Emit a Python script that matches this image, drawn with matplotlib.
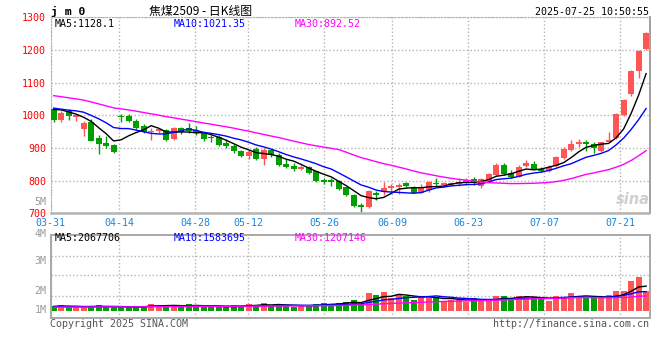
import numpy as np
import pandas as pd
import matplotlib
matplotlib.use('Agg')
import matplotlib.pyplot as plt
import matplotlib.transforms as mtransforms

# JM0 daily K, 2025-03-31 .. 2025-07-25
opens = [1019, 986, 1013, 995, 958, 980, 930, 914, 909, 999,
         999, 983, 968, 948, 952, 955, 926, 960, 960, 955,
         945, 935, 933, 914, 906, 892, 874, 896, 866, 894,
         878, 851, 846, 837, 841, 828, 802, 802, 799, 779,
         756, 725, 718, 761, 766, 776, 780, 792, 780, 763,
         771, 794, 787, 786, 789, 792, 804, 785, 800, 817,
         848, 824, 812, 846, 851, 836, 831, 846, 868, 894,
         911, 919, 912, 892, 919, 929, 1001, 1064, 1137, 1203]
highs = [1022, 1012, 1018, 1003, 982, 988, 940, 938, 912, 1004,
         1005, 988, 972, 962, 962, 958, 963, 965, 975, 968,
         950, 940, 940, 927, 912, 894, 894, 904, 899, 898,
         884, 865, 853, 848, 845, 831, 809, 808, 802, 782,
         758, 731, 771, 768, 797, 790, 792, 797, 784, 789,
         799, 807, 797, 797, 807, 807, 810, 807, 824, 853,
         855, 833, 848, 863, 860, 843, 848, 875, 904, 924,
         926, 924, 919, 919, 950, 1008, 1050, 1139, 1199, 1256]
lows = [980, 980, 985, 983, 938, 920, 882, 900, 886, 981,
        979, 959, 945, 925, 946, 922, 924, 943, 945, 940,
        920, 917, 905, 900, 884, 872, 866, 863, 848, 872,
        846, 838, 831, 833, 819, 797, 789, 785, 771, 753,
        720, 705, 716, 741, 756, 766, 758, 780, 761, 761,
        766, 784, 782, 784, 785, 787, 787, 777, 797, 814,
        817, 807, 810, 843, 832, 825, 827, 843, 865, 891,
        904, 891, 886, 889, 917, 927, 999, 1059, 1113, 1201]
closes = [985, 1008, 999, 1001, 977, 922, 912, 907, 889, 995,
          983, 962, 948, 953, 957, 925, 960, 950, 952, 945,
          928, 929, 910, 907, 892, 874, 889, 866, 894, 877,
          848, 843, 837, 843, 822, 799, 797, 797, 775, 756,
          723, 719, 768, 756, 777, 783, 786, 783, 763, 776,
          797, 789, 792, 792, 797, 802, 792, 804, 820, 848,
          820, 812, 843, 855, 836, 831, 841, 871, 897, 912,
          919, 911, 899, 917, 924, 1004, 1047, 1137, 1197, 1253]
# volume in million lots
volumes = [0.41, 0.50, 0.30, 0.30, 0.30, 0.41, 0.50, 0.30, 0.30, 0.30,
           0.30, 0.41, 0.41, 0.58, 0.41, 0.41, 0.50, 0.30, 0.58, 0.50,
           0.30, 0.30, 0.30, 0.41, 0.50, 0.41, 0.58, 0.41, 0.69, 0.41,
           0.58, 0.41, 0.30, 0.50, 0.41, 0.58, 0.69, 0.58, 0.63, 0.77,
           0.91, 0.58, 1.52, 1.32, 1.60, 1.05, 1.40, 1.24, 0.91, 1.24,
           1.05, 1.13, 0.83, 0.91, 0.91, 0.77, 1.05, 0.83, 0.83, 1.24,
           1.24, 1.05, 1.24, 1.13, 1.13, 0.96, 0.83, 1.24, 1.18, 1.52,
           1.24, 1.05, 1.05, 1.05, 1.32, 1.65, 1.65, 2.48, 2.84, 1.65]

# sessions before 03-31, only feed the moving averages
prev_closes = [1100, 1105, 1098, 1090, 1085, 1095, 1088, 1080, 1078,
               1082, 1075, 1070, 1078, 1072, 1065, 1068, 1072, 1066, 1062,
               1053, 1040, 1030, 1022, 1018, 1020, 1015, 1030, 1035, 1025]
prev_volumes = [0.28, 0.30, 0.25, 0.27, 0.32, 0.29, 0.26, 0.30, 0.31, 0.28,
                0.27, 0.33, 0.30, 0.29, 0.26, 0.31, 0.30, 0.28, 0.32, 0.35,
                0.30, 0.33, 0.31, 0.36, 0.34, 0.38, 0.35, 0.37, 0.40]

# values printed in the chart header
price_ma_text = ['MA5:1128.1', 'MA10:1021.35', 'MA30:892.52']
vol_ma_text = ['MA5:2067706', 'MA10:1583695', 'MA30:1207146']

date_idx = [0, 9, 19, 26, 36, 45, 55, 65, 75]
date_labels = ['03-31', '04-14', '04-28', '05-12', '05-26', '06-09', '06-23', '07-07', '07-21']
price_ticks = [700, 800, 900, 1000, 1100, 1200, 1300]
vol_labels = ['4M', '3M', '2M', '1M']

RED = '#ff5555'
GREEN = '#009e00'
GRID = '#b4b4b4'
MONO = 'DejaVu Sans Mono'
MA_COLORS = ['black', '#0000ff', '#ff00ff']

o = np.array(opens, float)
h = np.array(highs, float)
l = np.array(lows, float)
c = np.array(closes, float)
v = np.array(volumes) * 1e6
x = np.arange(len(c))


def ma(vals, prev, n):
    s = pd.Series(list(prev) + list(vals)).rolling(n).mean()
    return s.values[len(prev):]


pv = np.array(prev_volumes) * 1e6
price_mas = [ma(c, prev_closes, n) for n in (5, 10, 30)]
vol_mas = [ma(v, pv, n) for n in (5, 10, 30)]

W, H = 660, 360
fig = plt.figure(figsize=(W / 100, H / 100), dpi=100)
fig.patch.set_facecolor('white')


def px_axes(left, top, right, bottom):
    return fig.add_axes([left / W, 1 - bottom / H, (right - left) / W, (bottom - top) / H])


def ftext(xp, yp, s, **kw):
    kw.setdefault('family', MONO)
    kw.setdefault('fontsize', 7.2)
    kw.setdefault('va', 'center')
    fig.text(xp / W, 1 - yp / H, s, **kw)


ax = px_axes(50.7, 17.3, 649.5, 213.3)
axv = px_axes(50.7, 234.7, 649.5, 318)

up = c >= o
colors = np.where(up, RED, GREEN)
grid_x = np.array(date_idx) * 80 / 79 - 0.387
xlim = (-0.387, 79.45)

# price panel
ax.vlines(x, l, h, colors=colors, lw=1, zorder=2)
ax.bar(x, np.maximum(np.abs(c - o), 2.5), bottom=np.minimum(o, c), width=0.78,
       color=colors, linewidth=0, zorder=3)
for line, col in zip(price_mas, MA_COLORS):
    ax.plot(x, line, color=col, lw=1, zorder=4)
ax.set_xlim(*xlim)
ax.set_ylim(700, 1300)
ax.set_yticks(price_ticks)
ax.set_yticklabels([str(t) for t in price_ticks], color='#ff0000', family=MONO, fontsize=7.2)
lift = mtransforms.ScaledTranslation(0, 1.5 / 100, fig.dpi_scale_trans)
for lab in ax.get_yticklabels():
    lab.set_transform(lab.get_transform() + lift)
ax.set_xticks(grid_x)
ax.set_xticklabels(date_labels, color='#1a86d9', family=MONO, fontsize=7.2)
ax.tick_params(length=0)
ax.tick_params(axis='y', pad=3.4)
ax.tick_params(axis='x', pad=3.2)
ax.grid(True, color=GRID, linestyle=(0, (1, 1.6)), lw=1)
for s in ['left', 'top']:
    ax.spines[s].set_color(GRID)
    ax.spines[s].set_linestyle((0, (1, 1.6)))
ax.spines['right'].set_color('#a0a0a0')
ax.spines['right'].set_linewidth(1.4)
ax.spines['bottom'].set_color(GRID)
ax.spines['bottom'].set_linewidth(1.8)
ax.spines['bottom'].set_linestyle((0, (1, 1)))
ax.set_axisbelow(True)

# volume panel
axv.bar(x, v, width=0.8, color=colors, linewidth=0, zorder=2)
for line, col in zip(vol_mas, MA_COLORS):
    axv.plot(x, line, color=col, lw=1, zorder=3)
axv.set_xlim(*xlim)
axv.set_ylim(-0.58e6, 6.31e6)
axv.set_yticks([1.26e6, 2.95e6, 4.57e6])
axv.set_yticklabels([])
axv.set_xticks(grid_x)
axv.set_xticklabels([])
axv.tick_params(length=0)
axv.grid(True, color=GRID, linestyle=(0, (1, 1.6)), lw=1)
for s in axv.spines.values():
    s.set_color('#a8a8a8')
    s.set_linewidth(1.4)
axv.set_axisbelow(True)

# texts
ftext(51, 11.5, 'j m 0', fontweight='bold', fontsize=8.2)
ftext(201, 11, '焦煤2509 - 日K线图', ha='center', family=['Noto Sans CJK SC', 'DejaVu Sans'],
      fontsize=8.6)
ftext(649, 12, '2025-07-25 10:50:55', ha='right')
for xp, txt, col in zip([54.5, 174, 295], price_ma_text, MA_COLORS):
    ftext(xp, 24.2, txt, color=col)
for xp, txt, col in zip([54.5, 174, 295], vol_ma_text, MA_COLORS):
    ftext(xp, 238.3, txt, color=col)
ftext(46.5, 202, '5M', ha='right', color='#9a9a9a')
for lab, yp in zip(vol_labels, [233.8, 260.7, 290.7, 310]):
    ftext(46.5, yp, lab, ha='right', color='#9a9a9a')
ftext(50, 323.8, 'Copyright 2025 SINA.COM', color='#555555')
ftext(649, 324.3, 'http://finance.sina.com.cn', ha='right', color='#555555')
ftext(633, 199, 'sina', ha='center', family='DejaVu Sans', fontsize=10.5,
      fontstyle='italic', fontweight='bold', color='#cfcfcf')

fig.savefig('out.png', dpi=100, facecolor='white')
